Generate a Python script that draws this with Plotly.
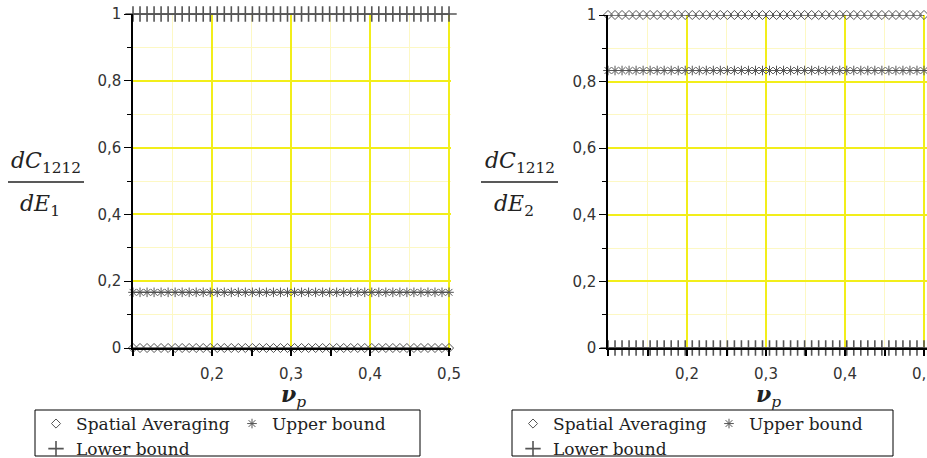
import plotly.graph_objects as go

W, H = 927, 458

# x values (nu_p) sampled along the curves
nu = [0.1 + i * 0.4 / 45 for i in range(46)]

# left panel: dC1212/dE1
left_spatial = [0.0] * len(nu)
left_upper = [0.1667] * len(nu)
left_lower = [1.0] * len(nu)

# right panel: dC1212/dE2
right_spatial = [1.0] * len(nu)
right_upper = [0.8333] * len(nu)
right_lower = [0.0] * len(nu)

series_names = ["Spatial Averaging", "Upper bound", "Lower bound"]
x_tickvals = [0.1, 0.2, 0.3, 0.4, 0.5]
x_ticktext = ["", "0,2", "0,3", "0,4", "0,5"]
x_minor = [0.15, 0.25, 0.35, 0.45]
y_tickvals = [0, 0.2, 0.4, 0.6, 0.8, 1.0]
y_ticktext = ["0", "0,2", "0,4", "0,6", "0,8", "1"]
y_minor = [0.1, 0.3, 0.5, 0.7, 0.9]

MCOL = "#555555"
styles = {
    "Spatial Averaging": dict(symbol="diamond-open", size=7, line=dict(width=1, color=MCOL), color=MCOL),
    "Upper bound": dict(symbol="asterisk-open", size=8, line=dict(width=1, color=MCOL), color=MCOL),
    "Lower bound": dict(symbol="cross-thin-open", size=11, line=dict(width=1.6, color=MCOL), color=MCOL),
}

fig = go.Figure()

panels = [
    ("x", "y", [left_spatial, left_upper, left_lower], ["legend", "legend2", "legend"]),
    ("x2", "y2", [right_spatial, right_upper, right_lower], ["legend3", "legend4", "legend3"]),
]
for xa, ya, vals, legs in panels:
    for name, yv, lg in zip(series_names, vals, legs):
        fig.add_trace(go.Scatter(
            x=nu, y=yv, name=name, mode="lines", showlegend=False,
            line=dict(color="black", width=1), xaxis=xa, yaxis=ya,
            cliponaxis=False, hoverinfo="skip",
        ))
        fig.add_trace(go.Scatter(
            x=nu, y=yv, name=name, mode="markers",
            marker=styles[name], xaxis=xa, yaxis=ya, legend=lg,
            cliponaxis=False,
        ))

grid_major = "#f2ee1a"
grid_minor = "#fdf8c4"
tickfont = dict(family="DejaVu Sans", size=15, color="#333333")

def xaxis(domain, rng, anchor):
    return dict(
        domain=domain, range=rng, anchor=anchor, automargin=False,
        tickvals=x_tickvals, ticktext=x_ticktext, ticks="outside", ticklen=6,
        tickcolor="black", tickwidth=1.5, tickfont=tickfont, ticklabelstandoff=5,
        ticklabeloverflow="allow",
        showgrid=True, gridcolor=grid_major, gridwidth=1.5,
        minor=dict(tickvals=x_minor, showgrid=True, gridcolor=grid_minor, gridwidth=1,
                   ticks="outside", ticklen=6, tickcolor="black"),
        showline=True, linecolor="black", linewidth=1.5, zeroline=False,
    )

def yaxis(domain, anchor):
    return dict(
        domain=domain, range=[0, 1], anchor=anchor, automargin=False,
        tickvals=y_tickvals, ticktext=y_ticktext, ticks="outside", ticklen=7,
        tickcolor="black", tickwidth=1, tickfont=tickfont, ticklabeloverflow="allow",
        showgrid=True, gridcolor=grid_major, gridwidth=1.5,
        minor=dict(tickvals=y_minor, showgrid=True, gridcolor=grid_minor, gridwidth=1,
                   ticks="outside", ticklen=4, tickcolor="black"),
        showline=True, linecolor="black", linewidth=1.5, zeroline=False,
    )

legfont = dict(family="DejaVu Serif", size=17, color="#222222")

def leg(xpx, ypx):
    return dict(x=xpx / W, y=1 - ypx / H, xanchor="left", yanchor="top",
                orientation="v", bgcolor="rgba(0,0,0,0)", borderwidth=0,
                font=legfont, itemwidth=30, tracegroupgap=0)

fig.update_layout(
    width=W, height=H, margin=dict(l=0, r=0, t=0, b=0, autoexpand=False),
    plot_bgcolor="white", paper_bgcolor="white",
    separators=",.",
    xaxis=xaxis([133 / W, 451 / W], [0.1, 0.5025], "y"),
    yaxis=yaxis([1 - 348 / H, 1 - 14 / H], "x"),
    xaxis2=xaxis([608 / W, 1.0], [0.1, 0.5038], "y2"),
    yaxis2=yaxis([1 - 348 / H, 1 - 15 / H], "x2"),
    legend=leg(36, 406),
    legend2=leg(232, 406),
    legend3=leg(513, 406),
    legend4=leg(709, 406),
    showlegend=True,
    shapes=[
        dict(type="rect", xref="paper", yref="paper", x0=35 / W, x1=420 / W,
             y0=1 - 456 / H, y1=1 - 410 / H, line=dict(color="black", width=1)),
        dict(type="rect", xref="paper", yref="paper", x0=512 / W, x1=893 / W,
             y0=1 - 456 / H, y1=1 - 410 / H, line=dict(color="black", width=1)),
        dict(type="line", xref="paper", yref="paper", x0=8 / W, x1=84 / W,
             y0=1 - 182 / H, y1=1 - 182 / H, line=dict(color="#222222", width=1.5)),
        dict(type="line", xref="paper", yref="paper", x0=481 / W, x1=558 / W,
             y0=1 - 182 / H, y1=1 - 182 / H, line=dict(color="#222222", width=1.5)),
    ],
)

afont = dict(family="DejaVu Serif", size=22, color="#222222")
annots = [
    (46, 162, "<i>dC</i><sub>1212</sub>"),
    (40, 205, "<i>dE</i><sub>1</sub>"),
    (520, 162, "<i>dC</i><sub>1212</sub>"),
    (514, 205, "<i>dE</i><sub>2</sub>"),
    (293, 396, "<b><i>ν</i></b><sub><i>p</i></sub>"),
    (768, 396, "<b><i>ν</i></b><sub><i>p</i></sub>"),
]
for xp, yp, txt in annots:
    fig.add_annotation(x=xp / W, y=1 - yp / H, xref="paper", yref="paper",
                       text=txt, showarrow=False, font=afont,
                       xanchor="center", yanchor="middle")

fig.write_html("out.html")
